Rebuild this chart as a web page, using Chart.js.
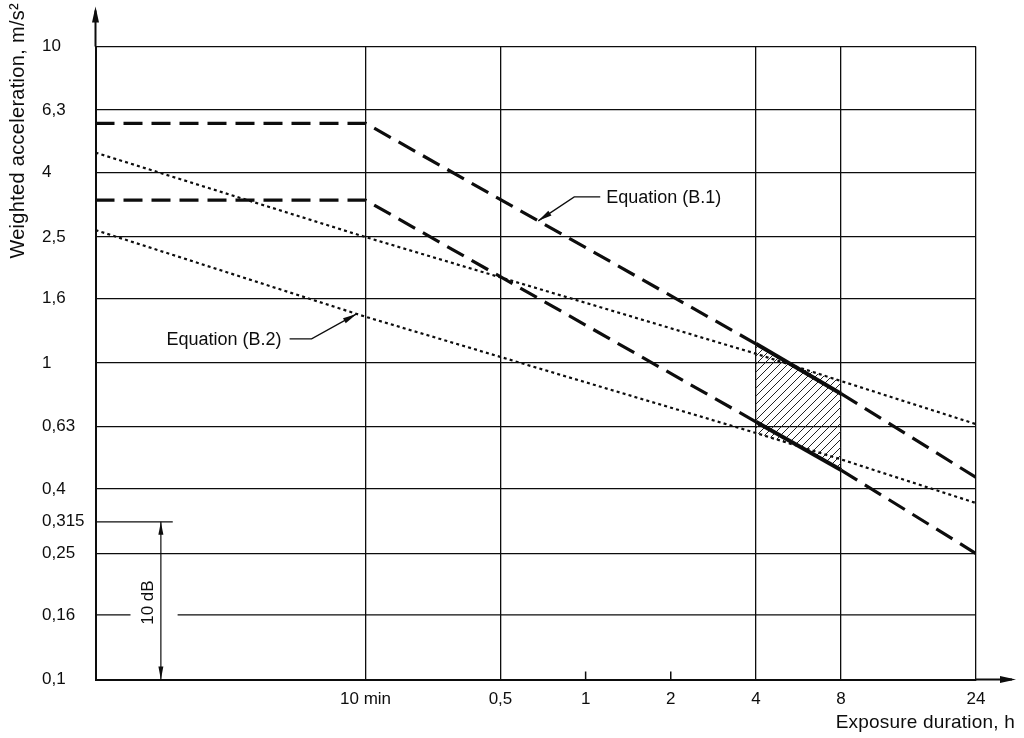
<!DOCTYPE html>
<html><head><meta charset="utf-8">
<script src="https://cdn.jsdelivr.net/npm/chart.js@4.4.1/dist/chart.umd.min.js"></script>
<style>html,body{margin:0;padding:0;background:#fff;}canvas{display:block;}</style>
</head><body>
<canvas id="c" width="1024" height="738"></canvas>
<script>
// ---- data ----
const X_MIN = 0.0185, X_MAX = 24;          // exposure duration, h
const Y_MIN = 0.1, Y_MAX = 10;             // weighted acceleration, m/s2
const xTicks = [1/6, 0.5, 1, 2, 4, 8, 24];
const xTickLabels = ['10 min', '0,5', '1', '2', '4', '8', '24'];
const xMinorOnly = [1, 2];
const yTicks = [10, 6.3, 4, 2.5, 1.6, 1, 0.63, 0.4, 0.315, 0.25, 0.16, 0.1];
const yTickLabels = ['10', '6,3', '4', '2,5', '1,6', '1', '0,63', '0,4', '0,315', '0,25', '0,16', '0,1'];
const yPartial = [0.315, 0.16];
const timeH   = [X_MIN, 1/6, 4, 8, 24];
const b1Upper = [5.72, 5.72, 1.15, 0.80, 0.435];
const b1Lower = [3.27, 3.27, 0.652, 0.459, 0.25];
const b2Upper = [4.62, 2.50, 1.07, 0.877, 0.641];
const b2Lower = [2.63, 1.40, 0.601, 0.496, 0.361];
const zoneIdx = [2, 3];                      // 4 h ... 8 h caution zone
const dimTime = 0.0315, dimFrom = 0.315, dimTo = 0.1, dimLabelValue = 0.175, dimText = '10 dB';
const shortLineEnd = 0.0347, gapFrom = 0.0246, gapTo = 0.0361;
const eqB1 = { text: 'Equation (B.1)', t: 0.68 };
const eqB2 = { text: 'Equation (B.2)', t: 0.155 };
const yTitle = 'Weighted acceleration, m/s\u00B2';
const xTitle = 'Exposure duration, h';

const INK = '#0d0d0d';
const FONT = "'Liberation Sans', Arial, sans-serif";

// hatch pattern
const pc = document.createElement('canvas'); pc.width = 8; pc.height = 8;
const pg = pc.getContext('2d');
pg.strokeStyle = '#222'; pg.lineWidth = 1;
pg.beginPath();
pg.moveTo(0, 8); pg.lineTo(8, 0);
pg.moveTo(-2, 2); pg.lineTo(2, -2);
pg.moveTo(6, 10); pg.lineTo(10, 6);
pg.stroke();
const canvas = document.getElementById('c');
const hatch = canvas.getContext('2d').createPattern(pc, 'repeat');

const pts = (ys, idx) => (idx || ys.map((_, i) => i)).map(i => ({ x: timeH[i], y: ys[i] }));
const isZone = c => c.p0.parsed.x === timeH[zoneIdx[0]] && c.p1.parsed.x === timeH[zoneIdx[1]];

const dashedB1 = ys => ({
  data: pts(ys), borderColor: INK, borderWidth: 3.2, borderDash: [19, 9], borderCapStyle: 'butt',
  pointRadius: 0, fill: false, tension: 0,
  segment: { borderDash: c => isZone(c) ? [] : undefined, borderWidth: c => isZone(c) ? 4 : undefined }
});
const dottedB2 = ys => ({
  data: pts(ys), borderColor: INK, borderWidth: 2.2, borderDash: [3, 3.2], pointRadius: 0, fill: false, tension: 0
});
const hatchDs = (ys, fill) => ({
  data: pts(ys, zoneIdx), borderColor: 'transparent', backgroundColor: hatch, pointRadius: 0, fill: fill, tension: 0
});

function pointOn(chart, dsIndex, t) {
  const px = chart.scales.x.getPixelForValue(t);
  const p = chart.getDatasetMeta(dsIndex).data;
  for (let i = 0; i < p.length - 1; i++) {
    if (px >= p[i].x && px <= p[i + 1].x) {
      const f = (px - p[i].x) / (p[i + 1].x - p[i].x);
      return { x: px, y: p[i].y + f * (p[i + 1].y - p[i].y) };
    }
  }
  return { x: px, y: p[0].y };
}
function head(ctx, from, to, len, half) {
  const a = Math.atan2(to.y - from.y, to.x - from.x);
  ctx.beginPath();
  ctx.moveTo(to.x, to.y);
  ctx.lineTo(to.x - len * Math.cos(a) + half * Math.sin(a), to.y - len * Math.sin(a) - half * Math.cos(a));
  ctx.lineTo(to.x - len * Math.cos(a) - half * Math.sin(a), to.y - len * Math.sin(a) + half * Math.cos(a));
  ctx.closePath(); ctx.fill();
}

const decor = {
  id: 'decor',
  beforeDatasetsDraw(chart) {
    const { ctx, chartArea: a, scales: { x, y } } = chart;
    ctx.save();
    ctx.strokeStyle = INK; ctx.lineWidth = 1.3;
    // partial grid lines
    let yy = y.getPixelForValue(yPartial[0]);
    ctx.beginPath(); ctx.moveTo(a.left, yy); ctx.lineTo(x.getPixelForValue(shortLineEnd), yy); ctx.stroke();
    yy = y.getPixelForValue(yPartial[1]);
    ctx.beginPath(); ctx.moveTo(a.left, yy); ctx.lineTo(x.getPixelForValue(gapFrom), yy);
    ctx.moveTo(x.getPixelForValue(gapTo), yy); ctx.lineTo(a.right, yy); ctx.stroke();
    // short tick marks at 1 h and 2 h
    ctx.lineWidth = 1.5;
    xMinorOnly.forEach(v => {
      const xx = x.getPixelForValue(v);
      ctx.beginPath(); ctx.moveTo(xx, a.bottom); ctx.lineTo(xx, a.bottom - 8); ctx.stroke();
    });
    ctx.restore();
  },
  afterDraw(chart) {
    const { ctx, chartArea: a, scales: { x, y } } = chart;
    ctx.save();
    ctx.strokeStyle = INK; ctx.fillStyle = INK;
    // axis arrows
    ctx.lineWidth = 2;
    ctx.beginPath(); ctx.moveTo(a.left, a.top); ctx.lineTo(a.left, a.top - 36); ctx.stroke();
    head(ctx, { x: a.left, y: a.top }, { x: a.left, y: a.top - 40 }, 16, 3.5);
    ctx.beginPath(); ctx.moveTo(a.right, a.bottom); ctx.lineTo(a.right + 36, a.bottom); ctx.stroke();
    head(ctx, { x: a.right, y: a.bottom }, { x: a.right + 40, y: a.bottom }, 16, 3.5);

    // 10 dB dimension
    const dx = x.getPixelForValue(dimTime);
    const dy1 = y.getPixelForValue(dimFrom), dy2 = y.getPixelForValue(dimTo);
    ctx.lineWidth = 1.2;
    ctx.beginPath(); ctx.moveTo(dx, dy1); ctx.lineTo(dx, dy2); ctx.stroke();
    head(ctx, { x: dx, y: dy2 }, { x: dx, y: dy1 }, 13, 2.5);
    head(ctx, { x: dx, y: dy1 }, { x: dx, y: dy2 }, 13, 2.5);
    ctx.save();
    ctx.translate(dx - 13, y.getPixelForValue(dimLabelValue));
    ctx.rotate(-Math.PI / 2);
    ctx.font = '17px ' + FONT; ctx.textAlign = 'center'; ctx.textBaseline = 'middle';
    ctx.fillText(dimText, 0, 0);
    ctx.restore();

    // Equation (B.1) callout
    ctx.lineWidth = 1.3;
    let tip = pointOn(chart, 0, eqB1.t);
    let elb = { x: tip.x + 36, y: tip.y - 24 };
    ctx.beginPath(); ctx.moveTo(tip.x, tip.y); ctx.lineTo(elb.x, elb.y); ctx.lineTo(elb.x + 26, elb.y); ctx.stroke();
    head(ctx, elb, tip, 14, 2.8);
    ctx.font = '18px ' + FONT; ctx.textBaseline = 'middle'; ctx.textAlign = 'left';
    ctx.fillText(eqB1.text, elb.x + 32, elb.y + 1);

    // Equation (B.2) callout
    tip = pointOn(chart, 3, eqB2.t);
    elb = { x: tip.x - 45, y: tip.y + 25 };
    ctx.beginPath(); ctx.moveTo(tip.x, tip.y); ctx.lineTo(elb.x, elb.y); ctx.lineTo(elb.x - 22, elb.y); ctx.stroke();
    head(ctx, elb, tip, 14, 2.8);
    ctx.textAlign = 'right';
    ctx.fillText(eqB2.text, elb.x - 30, elb.y + 1);

    // axis titles
    ctx.textAlign = 'right'; ctx.textBaseline = 'middle';
    ctx.font = '19px ' + FONT;
    try { ctx.letterSpacing = '0.2px'; } catch (e) {}
    ctx.fillText(xTitle, a.right + 39, 723);
    ctx.font = '20px ' + FONT;
    try { ctx.letterSpacing = '0.3px'; } catch (e) {}
    ctx.save();
    ctx.translate(18, 3);
    ctx.rotate(-Math.PI / 2);
    ctx.textAlign = 'right';
    ctx.fillText(yTitle, 0, 0);
    ctx.restore();
    ctx.restore();
  }
};

new Chart(canvas, {
  type: 'line',
  data: {
    datasets: [
      dashedB1(b1Upper), dashedB1(b1Lower), dottedB2(b2Upper), dottedB2(b2Lower),
      hatchDs(b1Upper, '+1'), hatchDs(b1Lower, false), hatchDs(b2Upper, '+1'), hatchDs(b2Lower, false)
    ]
  },
  options: {
    responsive: false, animation: false, devicePixelRatio: 1,
    layout: { padding: { top: 46.5, right: 48, left: 42, bottom: 0 } },
    plugins: { legend: { display: false }, tooltip: { enabled: false } },
    scales: {
      x: {
        type: 'logarithmic', min: X_MIN, max: X_MAX, bounds: 'data',
        afterBuildTicks: s => { s.ticks = xTicks.map(v => ({ value: v })); },
        afterFit: s => { s.height = 58.5; },
        ticks: {
          autoSkip: false, maxRotation: 0, padding: 10, color: INK, font: { family: FONT, size: 17 },
          callback: (v) => { const i = xTicks.indexOf(v); return i >= 0 ? xTickLabels[i] : ''; }
        },
        grid: {
          drawTicks: false, lineWidth: 1.3,
          color: c => (c.tick && xMinorOnly.includes(c.tick.value)) ? 'rgba(0,0,0,0)' : INK
        },
        border: { display: true, color: INK, width: 2 }
      },
      y: {
        type: 'logarithmic', min: Y_MIN, max: Y_MAX, bounds: 'data',
        afterBuildTicks: s => { s.ticks = yTicks.map(v => ({ value: v })); },
        afterFit: s => { s.width = 53.5; },
        ticks: {
          autoSkip: false, crossAlign: 'far', padding: 10, color: INK, font: { family: FONT, size: 17 },
          callback: (v) => { const i = yTicks.indexOf(v); return i >= 0 ? yTickLabels[i] : ''; }
        },
        grid: {
          drawTicks: false, lineWidth: 1.3,
          color: c => (c.tick && yPartial.includes(c.tick.value)) ? 'rgba(0,0,0,0)' : INK
        },
        border: { display: true, color: INK, width: 2 }
      }
    }
  },
  plugins: [decor]
});
</script>
</body></html>
